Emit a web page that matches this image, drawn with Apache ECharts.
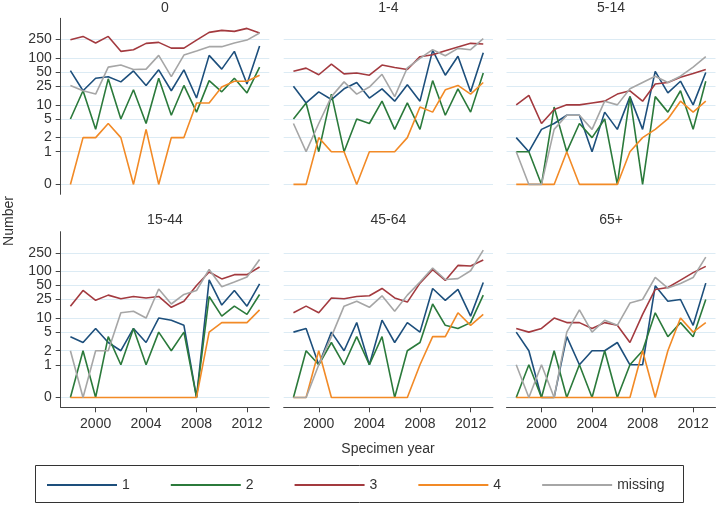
<!DOCTYPE html>
<html><head><meta charset="utf-8">
<script src="https://cdn.jsdelivr.net/npm/echarts@6/dist/echarts.min.js"></script>
<style>html,body{margin:0;padding:0;background:#fff}#c{width:717px;height:505px}</style>
</head><body><div id="c"></div>
<script>
const years = [1998,1999,2000,2001,2002,2003,2004,2005,2006,2007,2008,2009,2010,2011,2012,2013];
const panelTitles = ['0','1-4','5-14','15-44','45-64','65+'];
const seriesNames = ['1','2','3','4','missing'];
const yTickValues = [0,1,2,5,10,25,50,100,250];
const xTickValues = [2000,2004,2008,2012];

// age 0
const a0_s1 = [54,20,37,40,31,53,26,56,20,56,14,114,58,139,28,180];
const a0_s2 = [5,20,3,36,5,21,4,37,6,26,7,33,19,37,18,64];
const a0_s3 = [246,290,209,290,139,151,206,216,163,163,242,353,390,371,430,342];
const a0_s4 = [0,2,2,4,2,0,3,0,2,2,11,11,24,32,32,43];
const a0_sm = [26,20,17,64,71,57,58,114,40,116,141,175,175,209,242,342];
// age 1-4
const a1_s1 = [25,11,19,13,22,30,14,22,12,27,12,146,43,109,19,130];
const a1_s2 = [5,11,1,17,1,5,4,12,3,11,3,33,6,22,7,48];
const a1_s3 = [52,61,44,74,46,48,43,71,63,57,107,118,143,172,206,199];
const a1_s4 = [0,0,2,1,1,0,1,1,1,2,9,7,21,26,17,30];
const a1_sm = [4,1,4,15,31,17,24,45,15,62,98,151,112,161,151,259];
// age 5-14
const a2_s1 = [2,1,3,4,6,6,1,7,3,15,3,52,18,32,10,49];
const a2_s2 = [1,1,0,9,1,4,2,5,0,15,0,15,7,20,3,32];
const a2_s3 = [10,16,4,8,10,10,11,12,17,20,12,28,30,39,47,57];
const a2_s4 = [0,0,0,0,1,0,0,0,0,1,2,3,5,12,7,12];
const a2_sm = [1,0,0,3,6,6,3,12,10,22,30,41,30,41,64,107];
// age 15-44
const a3_s1 = [4,3,6,3,2,6,3,10,9,7,0,66,19,39,18,54];
const a3_s2 = [0,2,0,4,1,6,1,5,2,5,0,29,11,18,12,32];
const a3_s3 = [18,39,24,31,26,29,27,29,17,23,50,97,69,85,85,124];
const a3_s4 = [0,0,0,0,0,0,0,0,0,0,0,5,8,8,8,15];
const a3_sm = [2,0,2,2,13,14,10,42,20,32,39,110,47,59,76,180];
// age 45-64
const a4_s1 = [5,6,1,5,2,8,1,9,3,8,5,43,24,41,11,58];
const a4_s2 = [0,2,1,3,1,4,1,4,0,2,3,20,7,6,8,31];
const a4_s3 = [13,18,13,27,26,29,30,43,27,22,56,109,64,134,130,175];
const a4_s4 = [0,0,2,0,0,0,0,0,0,0,1,4,4,13,7,12];
const a4_sm = [0,0,1,4,18,23,17,30,14,31,59,118,67,70,103,285];
// age 65+
const a5_s1 = [5,2,0,0,4,1,2,2,3,1,1,49,23,25,7,56];
const a5_s2 = [0,1,0,2,0,1,0,2,0,1,2,13,4,8,4,25];
const a5_s3 = [6,5,6,10,8,8,6,8,7,3,12,41,45,65,94,128];
const a5_s4 = [0,0,0,0,0,0,0,0,0,0,2,0,2,10,5,8];
const a5_sm = [1,0,1,0,5,15,5,9,7,21,25,74,44,55,74,202];

const panelData = [
  [a0_s1,a0_s2,a0_s3,a0_s4,a0_sm],
  [a1_s1,a1_s2,a1_s3,a1_s4,a1_sm],
  [a2_s1,a2_s2,a2_s3,a2_s4,a2_sm],
  [a3_s1,a3_s2,a3_s3,a3_s4,a3_sm],
  [a4_s1,a4_s2,a4_s3,a4_s4,a4_sm],
  [a5_s1,a5_s2,a5_s3,a5_s4,a5_sm]
];

const colors = ['#1d4f7c','#2b7a3b','#a33a3f','#f28a26','#a6a6a6'];
const FONT = 'Liberation Sans, Arial, sans-serif';
// log scale with 0 shown at the position of 0.2
const tr = v => Math.log10(v === 0 ? 0.2 : v);
const yTickPos = yTickValues.map(tr);
const yLabel = p => { for (let i=0;i<yTickPos.length;i++) if (Math.abs(yTickPos[i]-p) < 1e-6) return String(yTickValues[i]); return ''; };

const colLeft = [60.7, 283.7, 506.5];
const colWidth = [208.6, 209.3, 209];
const rowTop = [18.3, 231.7];
const rowHeight = [176, 175.6];
const titleTop = [1, 213];

const grids = [], xAxes = [], yAxes = [], titles = [], series = [];
for (let i=0;i<6;i++){
  const r = Math.floor(i/3), c = i%3;
  grids.push({left: colLeft[c], top: rowTop[r], width: colWidth[c], height: rowHeight[r], containLabel:false});
  titles.push({text: panelTitles[i], left: colLeft[c] + colWidth[c]/2, top: titleTop[r], textAlign:'center', padding:0,
    textStyle:{fontSize:14, fontWeight:'normal', color:'#333', fontFamily:FONT}});
  xAxes.push({type:'value', gridIndex:i, min:1997.23, max:2013.77,
    axisLine:{show: r===1, onZero:false, lineStyle:{color:'#444', width:1}},
    axisTick:{show: r===1, customValues:xTickValues, length:5, lineStyle:{color:'#444'}},
    axisLabel:{show: r===1, customValues:xTickValues, margin:10, fontSize:14, color:'#333', fontFamily:FONT, formatter: v => String(v)},
    splitLine:{show:false}});
  yAxes.push({type:'value', gridIndex:i, min:-0.91, max:2.849,
    axisLine:{show: c===0, lineStyle:{color:'#444', width:1}},
    axisTick:{show: c===0, customValues:yTickPos, length:5, lineStyle:{color:'#444'}},
    axisLabel:{show: c===0, customValues:yTickPos, margin:9, fontSize:14, color:'#333', fontFamily:FONT, formatter: yLabel},
    splitLine:{show:true, lineStyle:{color:'#dcebf4', width:1}}});
  for (let k=0;k<5;k++){
    series.push({type:'line', name: seriesNames[k], xAxisIndex:i, yAxisIndex:i,
      data: years.map((y,j)=>[y, tr(panelData[i][k][j])]),
      symbol:'none', lineStyle:{width:1.6, color:colors[k]}, itemStyle:{color:colors[k]}, animation:false});
  }
}

const chart = echarts.init(document.getElementById('c'), null, {renderer:'canvas'});
chart.setOption({
  backgroundColor:'#fff',
  animation:false,
  textStyle:{fontFamily:FONT},
  title: titles,
  grid: grids,
  xAxis: xAxes,
  yAxis: yAxes,
  legend:{data: seriesNames, left:42, top:473, icon:'rect', itemWidth:70, itemHeight:2, itemGap:41,
    textStyle:{fontSize:14, color:'#333', fontFamily:FONT}},
  graphic:[
    {type:'text', x:9, y:221, rotation:Math.PI/2, style:{text:'Number', fill:'#333', font:'14px '+FONT, textAlign:'center', textVerticalAlign:'middle'}},
    {type:'text', x:388, y:449, style:{text:'Specimen year', fill:'#333', font:'14px '+FONT, textAlign:'center', textVerticalAlign:'middle'}},
    {type:'rect', shape:{x:35.5, y:465.5, width:648, height:37}, style:{fill:'none', stroke:'#333', lineWidth:1}, silent:true}
  ],
  series: series
});
</script></body></html>
